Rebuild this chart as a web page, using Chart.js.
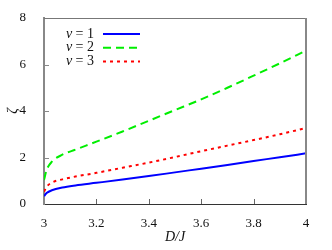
<!DOCTYPE html>
<html>
<head>
<meta charset="utf-8">
<script src="https://cdn.jsdelivr.net/npm/chart.js@4"></script>
<style>
  html, body { margin: 0; padding: 0; background: #fff; }
  #wrap { position: relative; width: 332px; height: 250px; }
</style>
</head>
<body>
<div id="wrap"><canvas id="c" width="332" height="250"></canvas></div>
<script>
// D/J sample positions
const dValues = [3, 3.01, 3.03, 3.07, 3.12, 3.2, 3.3, 3.4, 3.5, 3.6, 3.7, 3.8, 3.9, 4];
const zetaNu1 = [0.34, 0.47, 0.59, 0.71, 0.8, 0.91, 1.05, 1.2, 1.36, 1.52, 1.68, 1.85, 2.01, 2.18];
const zetaNu2 = [1.03, 1.46, 1.82, 2.12, 2.34, 2.68, 3.12, 3.58, 4.04, 4.5, 5.0, 5.52, 6.05, 6.6];
const zetaNu3 = [0.53, 0.74, 0.92, 1.06, 1.18, 1.34, 1.56, 1.78, 2.02, 2.27, 2.51, 2.75, 3.0, 3.27];
const seriesLabels = ['ν = 1', 'ν = 2', 'ν = 3'];
const xTicks = [3, 3.2, 3.4, 3.6, 3.8, 4];
const yTicks = [0, 2, 4, 6, 8];

const serif = "'Liberation Serif', serif";
Chart.defaults.font.family = serif;

function toPoints(ys) {
  return dValues.map((d, i) => ({ x: d, y: ys[i] }));
}

// frame, inward ticks and the in-plot legend
const framePlugin = {
  id: 'frame',
  afterDraw(chart) {
    const { ctx, chartArea: a, scales } = chart;
    ctx.save();
    // top + right border
    ctx.strokeStyle = '#777';
    ctx.lineWidth = 1;
    ctx.beginPath();
    ctx.moveTo(a.left, a.top + 0.5);
    ctx.lineTo(a.right, a.top + 0.5);
    ctx.stroke();
    ctx.lineWidth = 2;
    ctx.strokeStyle = '#888';
    ctx.beginPath();
    ctx.moveTo(a.right, a.top);
    ctx.lineTo(a.right, a.bottom);
    ctx.stroke();

    // inward ticks
    ctx.lineWidth = 1;
    ctx.strokeStyle = '#666';
    xTicks.forEach(v => {
      const px = Math.round(scales.x.getPixelForValue(v)) + 0.5;
      if (v === 3 || v === 4) return;
      ctx.beginPath();
      ctx.moveTo(px, a.bottom);
      ctx.lineTo(px, a.bottom - 5);
      ctx.stroke();
    });
    ctx.strokeStyle = '#888';
    yTicks.forEach(v => {
      const py = Math.round(scales.y.getPixelForValue(v)) + 0.5;
      if (v === 0 || v === 8) return;
      ctx.beginPath();
      ctx.moveTo(a.left, py);
      ctx.lineTo(a.left + 5, py);
      ctx.stroke();
    });

    // legend: text then line sample
    ctx.fillStyle = '#111';
    ctx.textBaseline = 'middle';
    chart.data.datasets.forEach((ds, i) => {
      const y = 34 + i * 13.8;
      ctx.textAlign = 'left';
      ctx.font = 'italic 14px ' + serif;
      ctx.fillText('ν', 66, y);
      ctx.font = '14px ' + serif;
      ctx.textAlign = 'right';
      ctx.fillText(ds.label.slice(1), 94, y);
      ctx.strokeStyle = ds.borderColor;
      ctx.lineWidth = ds.borderWidth;
      ctx.setLineDash(ds.borderDash || []);
      ctx.beginPath();
      ctx.moveTo(103, y);
      ctx.lineTo(140, y);
      ctx.stroke();
      ctx.setLineDash([]);
    });
    ctx.restore();
  }
};

new Chart(document.getElementById('c').getContext('2d'), {
  type: 'line',
  data: {
    datasets: [
      {
        label: seriesLabels[0],
        data: toPoints(zetaNu1),
        borderColor: '#0000ff',
        borderWidth: 2,
        pointRadius: 0,
        cubicInterpolationMode: 'monotone',
      },
      {
        label: seriesLabels[1],
        data: toPoints(zetaNu2),
        borderColor: '#00ee00',
        borderWidth: 2,
        borderDash: [8, 5],
        pointRadius: 0,
        cubicInterpolationMode: 'monotone',
      },
      {
        label: seriesLabels[2],
        data: toPoints(zetaNu3),
        borderColor: '#ff0000',
        borderWidth: 2,
        borderDash: [3, 4],
        pointRadius: 0,
        cubicInterpolationMode: 'monotone',
      },
    ],
  },
  options: {
    responsive: false,
    animation: false,
    layout: { padding: { top: 18, right: 26, left: 0, bottom: 0 } },
    plugins: {
      legend: { display: false },
      tooltip: { enabled: false },
    },
    scales: {
      x: {
        type: 'linear',
        min: 3,
        max: 4,
        afterBuildTicks: s => { s.ticks = xTicks.map(v => ({ value: v })); },
        afterFit: s => { s.height = 46; },
        grid: { display: false },
        border: { color: '#333', width: 1 },
        ticks: { color: '#111', font: { size: 13 }, padding: 4, maxRotation: 0, callback: v => String(v) },
        title: { display: true, text: 'D/J', color: '#111', font: { size: 14, style: 'italic' }, padding: { top: 2 } },
      },
      y: {
        min: 0,
        max: 8,
        afterBuildTicks: s => { s.ticks = yTicks.map(v => ({ value: v })); },
        afterFit: s => { s.width = 44; },
        grid: { display: false },
        border: { color: '#888', width: 2 },
        ticks: { color: '#111', font: { size: 13 }, padding: 10, callback: v => String(v) },
        title: { display: true, text: 'ζ', color: '#111', font: { size: 14, style: 'italic' }, padding: { top: 5, bottom: 0 } },
      },
    },
  },
  plugins: [framePlugin],
});
</script>
</body>
</html>
